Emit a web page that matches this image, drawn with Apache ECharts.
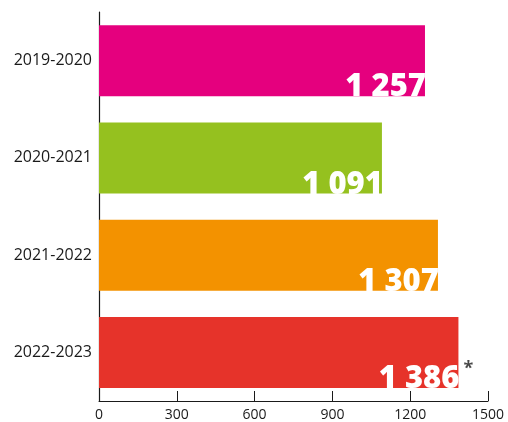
<!DOCTYPE html>
<html><head><meta charset="utf-8">
<script src="https://cdn.jsdelivr.net/npm/echarts@6/dist/echarts.min.js"></script>
<style>html,body{margin:0;padding:0;background:#fff}#c{width:508px;height:422px}</style>
</head><body><div id="c"></div>
<script>
var categories = ['2019-2020', '2020-2021', '2021-2022', '2022-2023'];
var values = [1257, 1091, 1307, 1386];
var notes = ['', '', '', '*'];
var colors = ['#E5007E', '#95C11F', '#F39200', '#E6332A'];
var xTicks = [0, 300, 600, 900, 1200, 1500];

function fmt(v) {
  var s = String(v);
  return s.length > 3 ? s.slice(0, s.length - 3) + ' ' + s.slice(-3) : s;
}

var chart = echarts.init(document.getElementById('c'));
chart.setOption({
  animation: false,
  grid: { left: 99, right: 20, top: 12, bottom: 21 },
  xAxis: {
    type: 'value', min: xTicks[0], max: xTicks[xTicks.length - 1], interval: 300,
    axisLine: { show: true, lineStyle: { color: '#1a1a1a', width: 1 } },
    axisTick: { show: true, inside: true, length: 10, lineStyle: { color: '#1a1a1a' } },
    splitLine: { show: false },
    axisLabel: { color: '#1a1a1a', fontSize: 14, fontFamily: 'Open Sans', margin: 7,
      formatter: function (v) { return String(v); } }
  },
  yAxis: {
    type: 'category', data: categories, inverse: true,
    axisLine: { show: true, lineStyle: { color: '#1a1a1a', width: 1.2 } },
    axisTick: { show: false },
    axisLabel: { color: '#1a1a1a', fontSize: 16, fontFamily: 'Open Sans', margin: 7 }
  },
  series: [{
    type: 'bar', barWidth: 71,
    data: values.map(function (v, i) { return { value: v, itemStyle: { color: colors[i] } }; }),
    label: {
      show: true, position: 'insideBottomRight', distance: 0, offset: [1, 7],
      color: '#fff', fontSize: 31, fontWeight: 800, fontFamily: 'Open Sans',
      formatter: function (p) { return fmt(p.value); }
    }
  }, {
    type: 'scatter', symbolSize: 0, silent: true,
    data: values.map(function (v, i) { return { value: [v, categories[i]], note: notes[i] }; }),
    label: {
      show: true, position: 'right', distance: 5, offset: [0, 16],
      color: '#1a1a1a', fontSize: 18, fontWeight: 'bold', fontFamily: 'Open Sans',
      formatter: function (p) { return p.data.note; }
    }
  }]
});
</script></body></html>
